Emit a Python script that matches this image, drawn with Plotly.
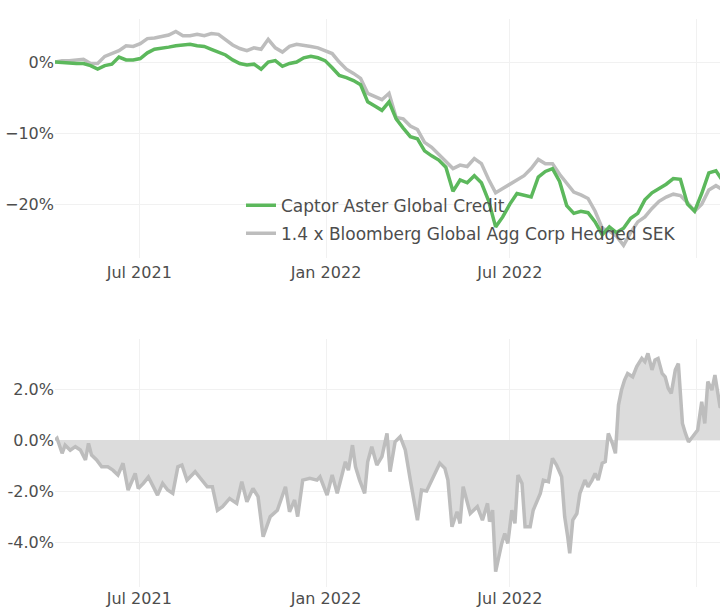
import pandas as pd
import plotly.graph_objects as go
from plotly.subplots import make_subplots

# ---------------- data (percent) ----------------
weekly_start = "2021-04-09"
view_end = "2023-01-24"
fund_name = "Captor Aster Global Credit"
bench_name = "1.4 x Bloomberg Global Agg Corp Hedged SEK"

fund_pct = [0.0, -0.1, -0.1, -0.2, -0.2, -0.5, -1.0, -0.5, -0.3, 0.7,
            0.3, 0.3, 0.5, 1.3, 1.8, 1.9, 2.1, 2.3, 2.4, 2.5,
            2.3, 2.2, 1.8, 1.4, 1.0, 0.3, -0.2, -0.4, -0.3, -1.0,
            0.0, 0.2, -0.6, -0.2, 0.0, 0.6, 0.8, 0.6, 0.2, -0.8,
            -1.9, -2.2, -2.6, -3.2, -5.6, -6.2, -6.8, -5.6, -8.0, -9.3,
            -10.5, -10.8, -12.5, -13.2, -13.8, -14.8, -18.2, -16.6, -17.0, -16.0,
            -17.0, -19.5, -23.2, -21.8, -20.0, -18.5, -18.8, -19.0, -16.2, -15.4,
            -15.0, -16.8, -20.2, -21.3, -21.0, -21.2, -22.5, -24.3, -23.2, -24.0,
            -23.4, -22.0, -21.3, -19.4, -18.4, -17.8, -17.2, -16.4, -16.5, -20.0,
            -21.0, -18.5, -15.6, -15.3, -16.8, -16.5]

bench_pct = [0.0, 0.2, 0.2, 0.3, 0.4, -0.2, -0.2, 0.8, 1.2, 1.6,
             2.3, 2.2, 2.6, 3.3, 3.4, 3.6, 3.8, 4.3, 3.7, 3.7,
             3.9, 3.7, 4.0, 3.9, 3.2, 2.4, 1.9, 1.6, 2.0, 1.8,
             3.2, 2.0, 1.4, 2.2, 2.5, 2.4, 2.2, 2.0, 1.6, 1.2,
             0.0, -1.0, -1.6, -2.3, -4.4, -4.8, -5.3, -4.4, -7.8, -8.0,
             -9.0, -9.5, -11.3, -12.0, -13.0, -14.0, -15.0, -14.5, -14.7, -13.6,
             -14.3, -16.5, -18.4, -17.8, -17.2, -16.6, -16.0, -15.0, -13.7, -14.3,
             -14.3, -15.8, -17.0, -18.3, -18.7, -19.2, -21.0, -23.4, -23.8, -24.5,
             -25.8, -24.0, -22.5, -21.8, -20.6, -19.6, -19.0, -18.6, -18.8, -19.8,
             -21.0, -20.0, -18.0, -17.4, -18.0, -17.8]

diff_dates = [
    "2021-04-09", "2021-04-11", "2021-04-16", "2021-04-19", "2021-04-24", "2021-04-29",
    "2021-05-04", "2021-05-07", "2021-05-09", "2021-05-12", "2021-05-15", "2021-05-20",
    "2021-05-25", "2021-05-31", "2021-06-05", "2021-06-10", "2021-06-15", "2021-06-20",
    "2021-06-27", "2021-06-30", "2021-07-05", "2021-07-10", "2021-07-15", "2021-07-19",
    "2021-07-24", "2021-07-29", "2021-08-03", "2021-08-08", "2021-08-12", "2021-08-17",
    "2021-08-25", "2021-09-01", "2021-09-06", "2021-09-11", "2021-09-16", "2021-09-21",
    "2021-09-28", "2021-10-05", "2021-10-10", "2021-10-15", "2021-10-21", "2021-10-26",
    "2021-10-31", "2021-11-07", "2021-11-14", "2021-11-22", "2021-11-26", "2021-12-01",
    "2021-12-04", "2021-12-09", "2021-12-16", "2021-12-23", "2021-12-26", "2022-01-02",
    "2022-01-07", "2022-01-12", "2022-01-17", "2022-01-20", "2022-01-23", "2022-01-27",
    "2022-01-30", "2022-02-03", "2022-02-08", "2022-02-11", "2022-02-15", "2022-02-20",
    "2022-02-25", "2022-03-02", "2022-03-05", "2022-03-10", "2022-03-15", "2022-03-20",
    "2022-03-25", "2022-04-01", "2022-04-05", "2022-04-10", "2022-04-16", "2022-04-23",
    "2022-04-28", "2022-05-01", "2022-05-05", "2022-05-10", "2022-05-13", "2022-05-16",
    "2022-05-23", "2022-05-30", "2022-06-04", "2022-06-09", "2022-06-11", "2022-06-14",
    "2022-06-17", "2022-06-21", "2022-06-23", "2022-06-26", "2022-06-29", "2022-07-03",
    "2022-07-06", "2022-07-09", "2022-07-13", "2022-07-16", "2022-07-21", "2022-07-24",
    "2022-07-28", "2022-07-31", "2022-08-03", "2022-08-08", "2022-08-12", "2022-08-16",
    "2022-08-21", "2022-08-24", "2022-08-27", "2022-08-29", "2022-09-01", "2022-09-05",
    "2022-09-08", "2022-09-13", "2022-09-16", "2022-09-20", "2022-09-23", "2022-09-26",
    "2022-09-30", "2022-10-03", "2022-10-06", "2022-10-10", "2022-10-13", "2022-10-16",
    "2022-10-19", "2022-10-22", "2022-10-25", "2022-10-30", "2022-11-03", "2022-11-08",
    "2022-11-11", "2022-11-14", "2022-11-18", "2022-11-21", "2022-11-24", "2022-11-28",
    "2022-12-01", "2022-12-04", "2022-12-07", "2022-12-11", "2022-12-14", "2022-12-18",
    "2022-12-21", "2022-12-24", "2022-12-28", "2023-01-02", "2023-01-06", "2023-01-09",
    "2023-01-12", "2023-01-16", "2023-01-19", "2023-01-24", "2023-01-29", "2023-02-03",
]

diff_pct = [
    0.0, 0.07, -0.52, -0.2, -0.4, -0.26,
    -0.39, -0.59, -0.78, -0.13, -0.59, -0.78,
    -1.05, -1.05, -1.18, -1.37, -0.91, -1.96,
    -1.31, -1.9, -1.7, -1.45, -1.83, -2.16,
    -1.7, -1.96, -2.09, -1.05, -0.98, -1.57,
    -1.24, -1.57, -1.83, -1.83, -2.75, -2.61,
    -2.29, -2.48, -1.63, -2.42, -1.9, -2.22,
    -3.79, -3.0, -2.75, -1.83, -2.81, -2.35,
    -3.0, -1.57, -1.5, -1.57, -1.44, -2.16,
    -1.37, -2.09, -1.31, -0.85, -1.18, -0.2,
    -1.05, -1.57, -2.09, -0.85, -0.26, -0.98,
    -0.65, 0.26, -1.24, -0.07, 0.13, -0.39,
    -1.57, -3.14, -1.96, -2.0, -1.5, -0.91,
    -1.11, -1.57, -3.4, -2.81, -3.27, -1.83,
    -2.88, -2.61, -3.14, -2.48, -3.2, -2.75,
    -5.16, -4.3, -4.05, -3.66, -4.05, -2.75,
    -3.27, -1.37, -1.7, -3.4, -3.4, -2.75,
    -2.35, -2.09, -1.57, -1.63, -0.72, -0.98,
    -1.44, -3.0, -3.79, -4.44, -3.14, -2.88,
    -2.09, -1.57, -1.83, -1.57, -1.31, -1.57,
    -0.91, -0.85, 0.26, -0.13, -0.52, 1.37,
    1.96, 2.35, 2.61, 2.48, 2.88, 3.2,
    3.07, 3.4, 2.75, 3.14, 3.2, 2.61,
    2.48, 2.03, 1.83, 2.75, 3.0, 0.65,
    0.26, -0.07, 0.13, 0.39, 1.5, 0.65,
    2.29, 1.96, 2.55, 1.31, 1.2, 1.0,
]

x_tick_dates = ["2021-07-01", "2022-01-01", "2022-07-01", "2023-01-01"]
x_tick_labels = ["Jul 2021", "Jan 2022", "Jul 2022", ""]
diff_tick_vals = [-0.04, -0.02, 0.0, 0.02]
diff_tick_labels = ["-4.0%", "-2.0%", "0.0%", "2.0%"]

# ---------------- figure ----------------
weekly_dates = pd.date_range(weekly_start, periods=len(fund_pct), freq="7D")
fund = [v / 100 for v in fund_pct]
bench = [v / 100 for v in bench_pct]
diff = [v / 100 for v in diff_pct]

GREEN = "#5cb85c"
GRAY = "#bdbdbd"
FILL = "#dcdcdc"
TEXT = "#4d4d4d"
GRID = "#f1f1f1"
FONT = "DejaVu Sans"

fig = make_subplots(rows=2, cols=1, shared_xaxes=False)

fig.add_trace(go.Scatter(x=weekly_dates, y=bench, name=bench_name, mode="lines",
                         line=dict(color=GRAY, width=3.5), legendrank=2,
                         legendgroup="b"), row=1, col=1)
fig.add_trace(go.Scatter(x=weekly_dates, y=fund, name=fund_name, mode="lines",
                         line=dict(color=GREEN, width=3.5), legendrank=1,
                         legendgroup="a"), row=1, col=1)
fig.add_trace(go.Scatter(x=pd.to_datetime(diff_dates), y=diff, mode="lines",
                         line=dict(color=GRAY, width=3.5), fill="tozeroy",
                         fillcolor=FILL, showlegend=False), row=2, col=1)

axis_common = dict(showgrid=True, gridcolor=GRID, gridwidth=1, zeroline=False,
                   showline=False, ticks="", automargin=False,
                   tickfont=dict(family=FONT, size=16, color=TEXT))

fig.update_xaxes(**axis_common, tickvals=x_tick_dates, ticktext=x_tick_labels,
                 range=[weekly_start, view_end])
fig.update_xaxes(domain=[0, 1], ticklabelstandoff=3, row=1, col=1)
fig.update_xaxes(domain=[0, 1], ticklabelstandoff=0, row=2, col=1)
fig.update_yaxes(**axis_common)
fig.update_yaxes(domain=[0.579, 1.0], range=[-0.276, 0.0606], dtick=0.1,
                 tickformat=".0%", row=1, col=1)
fig.update_yaxes(domain=[0.0, 0.4366], range=[-0.0576, 0.0396],
                 tickvals=diff_tick_vals, ticktext=diff_tick_labels, row=2, col=1)

fig.update_layout(
    width=720, height=607,
    margin=dict(l=55, r=0, t=19, b=20),
    paper_bgcolor="white", plot_bgcolor="white",
    font=dict(family=FONT, size=16, color=TEXT),
    showlegend=True,
    legend=dict(x=0.2797, y=0.703, xanchor="left", yanchor="top",
                bgcolor="rgba(0,0,0,0)", font=dict(family=FONT, size=17, color=TEXT),
                tracegroupgap=3),
)

fig.write_html(
    "out.html",
    config={"displayModeBar": False},
    post_script="document.body.style.margin='0';document.body.style.overflow='hidden';",
)
